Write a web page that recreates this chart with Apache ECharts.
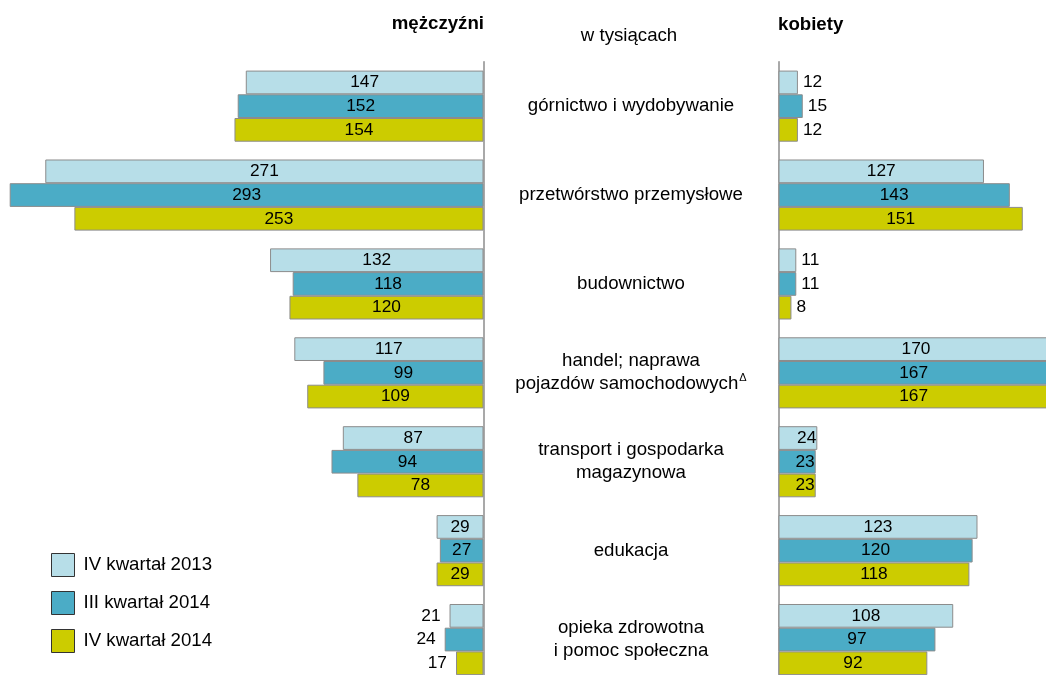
<!DOCTYPE html>
<html><head><meta charset="utf-8">
<script src="https://cdn.jsdelivr.net/npm/echarts@6/dist/echarts.min.js"></script>
<style>html,body{margin:0;padding:0;background:#fff;overflow:hidden;width:1046px;height:675px}#c{width:1120px;height:720px}</style>
</head><body><div id="c"></div>
<script>
const categories = [
  'górnictwo i wydobywanie',
  'przetwórstwo przemysłowe',
  'budownictwo',
  'handel; naprawa\npojazdów samochodowychΔ',
  'transport i gospodarka\nmagazynowa',
  'edukacja',
  'opieka zdrowotna\ni pomoc społeczna'
];
const seriesNames = ['IV kwartał 2013', 'III kwartał 2014', 'IV kwartał 2014'];
const men2013q4 = [147, 271, 132, 117, 87, 29, 21];
const men2014q3 = [152, 293, 118, 99, 94, 27, 24];
const men2014q4 = [154, 253, 120, 109, 78, 29, 17];
const women2013q4 = [12, 127, 11, 170, 24, 123, 108];
const women2014q3 = [15, 143, 11, 167, 23, 120, 97];
const women2014q4 = [12, 151, 8, 167, 23, 118, 92];
const colors = ['#B7DEE8', '#4BACC6', '#CCCC00'];
const FONT = '"Liberation Sans", Arial, sans-serif';
const BIG = 18.67, VAL = 17.33;

function menData(arr) {
  return arr.map(v => ({ value: v, label: { position: v < 25 ? 'left' : 'inside', distance: 9 } }));
}
function womenData(arr) {
  return arr.map(v => ({ value: v, label: { position: v < 20 ? 'right' : (v < 30 ? 'insideRight' : 'inside'), distance: v < 20 ? 5 : 1 } }));
}
function bar(name, data, idx, grid) {
  return {
    type: 'bar', name: name, xAxisIndex: grid, yAxisIndex: grid,
    data: data, barGap: 0, barCategoryGap: '20%', clip: false,
    itemStyle: { color: colors[idx], borderColor: '#8c8c8c', borderWidth: 1 },
    label: { show: true, color: '#000', fontSize: VAL, fontFamily: FONT },
    emphasis: { disabled: true }, animation: false
  };
}
function supFormat(v) {
  return v.split('\n').map(function (l) {
    const i = l.indexOf('Δ');
    if (i < 0) return '{t|' + l + '}';
    return '{t|' + l.slice(0, i) + '}{sup|Δ}';
  }).join('\n');
}

const chart = echarts.init(document.getElementById('c'));
chart.setOption({
  animation: false,
  textStyle: { fontFamily: FONT },
  graphic: [
    { type: 'text', x: 484, y: 14, style: { text: 'mężczyźni', textAlign: 'right', textVerticalAlign: 'top', font: 'bold ' + BIG + 'px ' + FONT, fill: '#000' } },
    { type: 'text', x: 778, y: 15, style: { text: 'kobiety', textAlign: 'left', textVerticalAlign: 'top', font: 'bold ' + BIG + 'px ' + FONT, fill: '#000' } },
    { type: 'text', x: 629, y: 26, style: { text: 'w tysiącach', textAlign: 'center', textVerticalAlign: 'top', font: BIG + 'px ' + FONT, fill: '#000' } }
  ],
  legend: {
    data: seriesNames, orient: 'vertical', left: 51, top: 553, padding: 0,
    itemWidth: 23, itemHeight: 23, itemGap: 14,
    icon: 'rect',
    itemStyle: { borderColor: '#333', borderWidth: 1 },
    textStyle: { fontSize: BIG, color: '#000', fontFamily: FONT, padding: [0, 0, 0, 4] },
    selectedMode: false
  },
  grid: [
    { left: 0, width: 483.5, top: 61.7, height: 622.3 },
    { left: 778.5, width: 291.2, top: 61.7, height: 622.3 }
  ],
  xAxis: [
    { type: 'value', gridIndex: 0, inverse: true, min: 0, max: 299, show: false },
    { type: 'value', gridIndex: 1, min: 0, max: 180, show: false }
  ],
  yAxis: [
    {
      type: 'category', gridIndex: 0, inverse: true, data: categories, position: 'right',
      axisLine: { show: true, lineStyle: { color: '#8c8c8c', width: 1.5 } },
      axisTick: { show: false },
      axisLabel: {
        margin: 147.5, align: 'center', fontSize: BIG, color: '#000', lineHeight: 23, fontFamily: FONT,
        formatter: supFormat,
        rich: {
          t: { fontSize: BIG, color: '#000', lineHeight: 23, fontFamily: FONT },
          sup: { fontSize: 11, color: '#000', lineHeight: 23, verticalAlign: 'top', padding: [0, 0, 6, 1], fontFamily: FONT }
        }
      }
    },
    {
      type: 'category', gridIndex: 1, inverse: true, data: categories, position: 'left',
      axisLine: { show: true, lineStyle: { color: '#8c8c8c', width: 1.5 } },
      axisTick: { show: false }, axisLabel: { show: false }
    }
  ],
  series: [
    bar(seriesNames[0], menData(men2013q4), 0, 0),
    bar(seriesNames[1], menData(men2014q3), 1, 0),
    bar(seriesNames[2], menData(men2014q4), 2, 0),
    bar(seriesNames[0], womenData(women2013q4), 0, 1),
    bar(seriesNames[1], womenData(women2014q3), 1, 1),
    bar(seriesNames[2], womenData(women2014q4), 2, 1)
  ]
});
</script>
</body></html>
